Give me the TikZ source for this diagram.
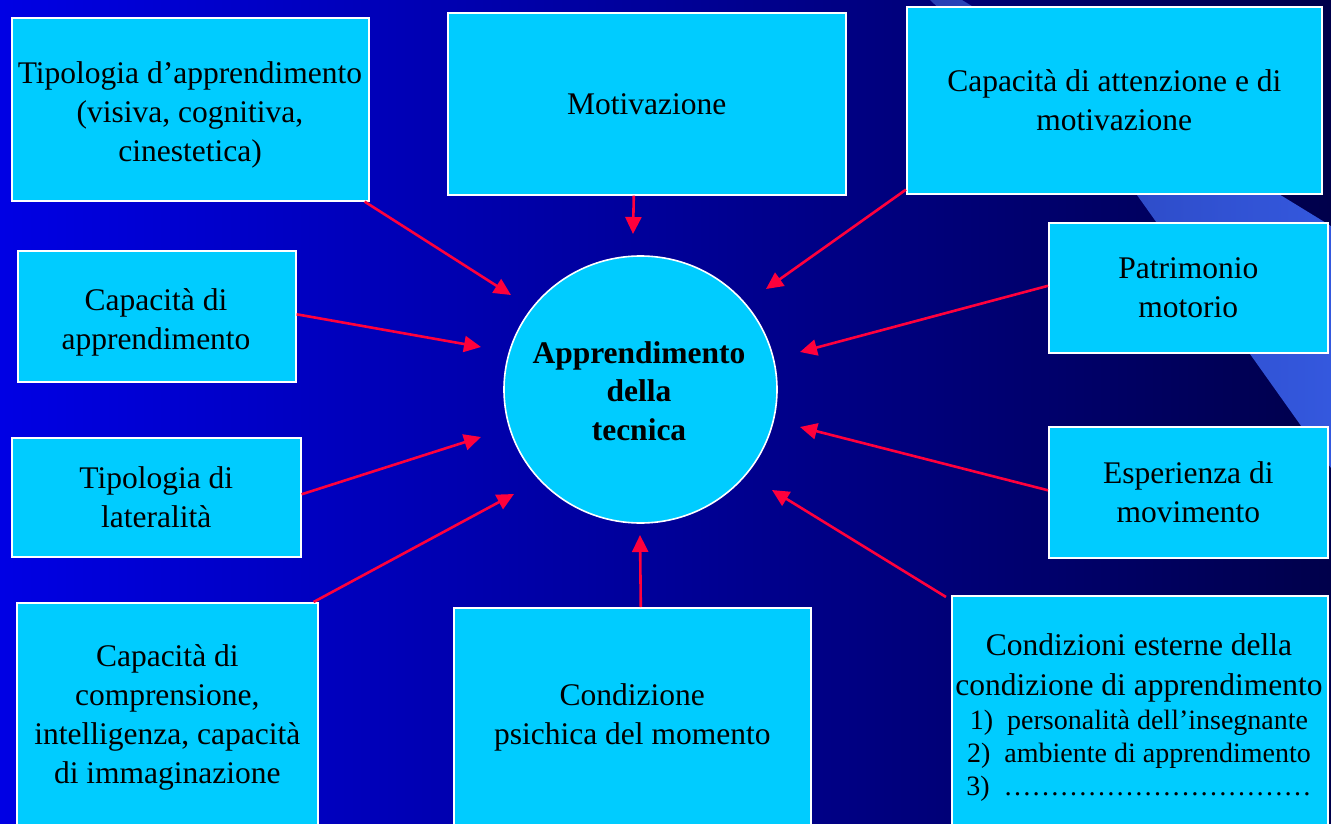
\documentclass[tikz,border=0pt]{standalone}
\usepackage{fontspec}
\setmainfont{Liberation Serif}
\usetikzlibrary{arrows.meta,shapes.geometric}
\definecolor{boxfill}{RGB}{0,204,255}
\definecolor{arrowred}{RGB}{255,0,60}
\definecolor{bgleft}{RGB}{0,0,228}
\definecolor{bgright}{RGB}{0,0,75}
\definecolor{stripeL}{RGB}{40,65,180}
\definecolor{stripeR}{RGB}{52,88,222}
\begin{document}
\begin{tikzpicture}[x=1pt,y=-1pt,
  box/.style={draw=white, line width=1.6pt, fill=boxfill, align=center, inner sep=0pt,
    font=\fontsize{31.5}{39}\selectfont, text=black, anchor=north west},
  boxtext/.style={align=center, inner sep=0pt, font=\fontsize{31.5}{39}\selectfont, text=black},
  hub/.style={ellipse, draw=white, line width=1.6pt, fill=boxfill, inner sep=0pt,
    minimum width=273pt, minimum height=267pt},
  hubtext/.style={align=center, inner sep=0pt,
    font=\fontsize{31.5}{38.5}\selectfont\bfseries, text=black},
  arr/.style={draw=arrowred, line width=2.6pt, -{Triangle[length=17pt,width=16pt]}}]
\useasboundingbox (0,0) rectangle (1331,824);
\clip (0,0) rectangle (1331,824);
% background
\shade[left color=bgleft, right color=bgright] (0,0) rectangle (1331,824);
\shade[left color=stripeL, right color=stripeR] (930,0) -- (962,0) -- (1331,226) -- (1331,468) -- (1137,195) -- cycle;
% centre
\node[hub] (c) at (640.5,389.5) {};
\node[hubtext] (ct) at (639,391) {Apprendimento\\della\\tecnica};
% boxes
\node[box, minimum width=357pt, minimum height=183pt] (b1) at (11,17) {};
\node[boxtext] (t1) at (190,115) {Tipologia d’apprendimento\\(visiva, cognitiva,\\cinestetica)};
\node[box, minimum width=398pt, minimum height=182pt] (b2) at (447,12) {Motivazione};
\node[box, minimum width=415pt, minimum height=187pt] (b3) at (906,6) {Capacità di attenzione e di\\motivazione};
\node[box, minimum width=279pt, minimum height=130pt] (b4) at (1048,222) {Patrimonio\\motorio};
\node[box, minimum width=279pt, minimum height=131pt] (b5) at (1048,426) {Esperienza di\\movimento};
\node[box, minimum width=376pt, minimum height=250pt] (b6) at (951,595) {};
\node[boxtext, anchor=north] (t6) at (1139,633) {Condizioni esterne della\\[1pt]condizione di apprendimento\\[-5pt]
  {\fontsize{28}{34}\selectfont 1)\ \ personalità dell’insegnante}\\[-6pt]
  {\fontsize{28}{34}\selectfont 2)\ \ ambiente di apprendimento}\\[-6pt]
  {\fontsize{28}{34}\selectfont 3)\ \ ……………………………}};
\node[box, minimum width=357pt, minimum height=220pt] (b7) at (453,607) {Condizione\\psichica del momento};
\node[box, minimum width=301pt, minimum height=230pt] (b8) at (16,602) {Capacità di\\comprensione,\\intelligenza, capacità\\di immaginazione};
\node[box, minimum width=289pt, minimum height=119pt] (b9) at (11,437) {Tipologia di\\lateralità};
\node[box, minimum width=278pt, minimum height=131pt] (b10) at (17,250) {};
\node[boxtext] (t10) at (156,322) {Capacità di\\apprendimento};
% arrow tips
\coordinate (e1) at (511,295);
\coordinate (e2) at (633,234);
\coordinate (e3) at (766,289);
\coordinate (e4) at (800,352);
\coordinate (e5) at (800,427);
\coordinate (e6) at (772,490);
\coordinate (e7) at (640,535);
\coordinate (e8) at (514,494);
\coordinate (e9) at (481,437);
\coordinate (e10) at (481,347);
% connectors
\draw[arr] ([xshift=-5pt]b1.south east) -- (e1);
\draw[arr] ([xshift=-13pt]b2.south) -- (e2);
\draw[arr] ([yshift=5pt]b3.south west) -- (e3);
\draw[arr] ([yshift=2pt]b4.west) -- (e4);
\draw[arr] ([yshift=2pt]b5.west) -- (e5);
\draw[arr] ([xshift=-5pt,yshift=-2pt]b6.north west) -- (e6);
\draw[arr] ([xshift=8.5pt]b7.north) -- (e7);
\draw[arr] ([xshift=-5pt]b8.north east) -- (e8);
\draw[arr] ([yshift=3pt]b9.east) -- (e9);
\draw[arr] ([yshift=2pt]b10.east) -- (e10);
\end{tikzpicture}
\end{document}
